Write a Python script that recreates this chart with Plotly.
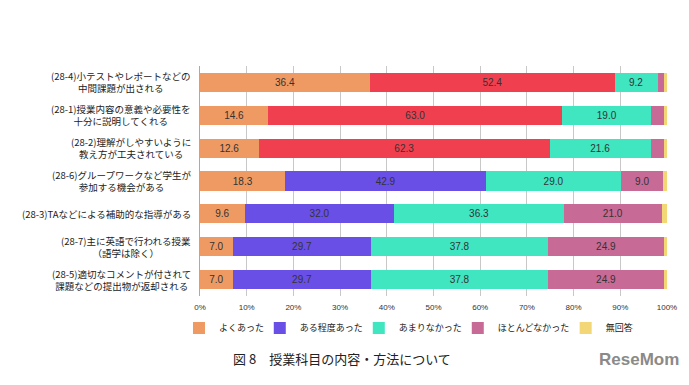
import plotly.graph_objects as go

# Data (top row first)
row_ids = ["28-4", "28-1", "28-2", "28-6", "28-3", "28-7", "28-5"]
row_labels = [
    "(28-4)小テストやレポートなどの<br>中間課題が出される",
    "(28-1)授業内容の意義や必要性を<br>十分に説明してくれる",
    "(28-2)理解がしやすいように<br>教え方が工夫されている",
    "(28-6)グループワークなど学生が<br>参加する機会がある",
    "(28-3)TAなどによる補助的な指導がある",
    "(28-7)主に英語で行われる授業<br>（語学は除く）",
    "(28-5)適切なコメントが付されて<br>課題などの提出物が返却される",
]
series_names = ["よくあった", "ある程度あった", "あまりなかった", "ほとんどなかった", "無回答"]
yoku = [36.4, 14.6, 12.6, 18.3, 9.6, 7.0, 7.0]
aru = [52.4, 63.0, 62.3, 42.9, 32.0, 29.7, 29.7]
amari = [9.2, 19.0, 21.6, 29.0, 36.3, 37.8, 37.8]
hotondo = [1.4, 2.8, 2.9, 9.0, 21.0, 24.9, 24.9]
muka = [0.5, 0.6, 0.6, 0.8, 1.1, 0.6, 0.6]
tick_vals = [0, 10, 20, 30, 40, 50, 60, 70, 80, 90, 100]
tick_text = ["0%", "10%", "20%", "30%", "40%", "50%", "60%", "70%", "80%", "90%", "100%"]

values = [yoku, aru, amari, hotondo, muka]
base_colors = ["#ef9a62", "#6a4fe6", "#3fe6c0", "#c86a96", "#f3d676"]
red = "#f0404f"

# legend placement (paper x of each legend entry)
legend_x = [-0.045, 0.128, 0.340, 0.552, 0.783]
legend_keys = ["legend", "legend2", "legend3", "legend4", "legend5"]

fig = go.Figure()
ids_rev = row_ids[::-1]
for i, (name, vals) in enumerate(zip(series_names, values)):
    vr = vals[::-1]
    if i == 1:
        cols = [red if rid in ("28-4", "28-1", "28-2") else base_colors[1] for rid in ids_rev]
    else:
        cols = [base_colors[i]] * len(vr)
    txt = [f"{v:.1f}" if v >= 5 else "" for v in vr]
    fig.add_trace(go.Bar(
        name=name, y=ids_rev, x=vr, orientation="h",
        marker=dict(color=cols, line=dict(width=0)),
        text=txt, textposition="inside", insidetextanchor="middle",
        textfont=dict(size=10, color="#333333", family="Liberation Sans, Arial"),
        hoverinfo="skip", cliponaxis=False, legend=legend_keys[i],
    ))

for rid, lab in zip(row_ids, row_labels):
    fig.add_annotation(
        x=-0.014, xref="paper", y=rid, yref="y", text=lab, showarrow=False,
        xanchor="right", yanchor="middle", align="center",
        font=dict(size=9.5, color="#222222", family="Noto Sans CJK JP"),
    )

fig.add_annotation(
    x=0.304, xref="paper", y=-0.27, yref="paper",
    text="図 8　授業科目の内容・方法について", showarrow=False,
    xanchor="center", yanchor="middle",
    font=dict(size=13, color="#222222", family="Noto Sans CJK JP"),
)
fig.add_annotation(
    x=0.94, xref="paper", y=-0.275, yref="paper",
    text="<b>ReseMom</b>", showarrow=False, xanchor="center", yanchor="middle",
    font=dict(size=17, color="#8a8a8a", family="Liberation Sans, Arial"),
)

legend_common = dict(orientation="h", xref="paper", yref="paper", xanchor="left",
                     y=-0.139, yanchor="middle", itemwidth=30,
                     bgcolor="rgba(0,0,0,0)",
                     font=dict(size=9, color="#222222", family="Noto Sans CJK JP"))
legend_layout = {k: dict(x=lx, **legend_common) for k, lx in zip(legend_keys, legend_x)}

fig.update_layout(
    barmode="stack", bargap=0.42,
    width=681, height=377,
    margin=dict(l=192, r=22, t=58, b=89, autoexpand=False),
    paper_bgcolor="white", plot_bgcolor="white",
    showlegend=True,
    font=dict(family="Noto Sans CJK JP"),
    **legend_layout,
)
fig.update_xaxes(range=[0, 100], tickvals=tick_vals, ticktext=tick_text,
                 showgrid=True, gridcolor="#c8c8c8", gridwidth=1, zeroline=False,
                 tickfont=dict(size=8, color="#333333", family="Liberation Sans, Arial"),
                 ticks="", ticklabelstandoff=5, fixedrange=True)
fig.update_yaxes(type="category", showticklabels=False, showline=True, linecolor="#aaaaaa",
                 linewidth=1, showgrid=False, ticks="",
                 categoryorder="array", categoryarray=ids_rev)

fig.write_html("out.html")
